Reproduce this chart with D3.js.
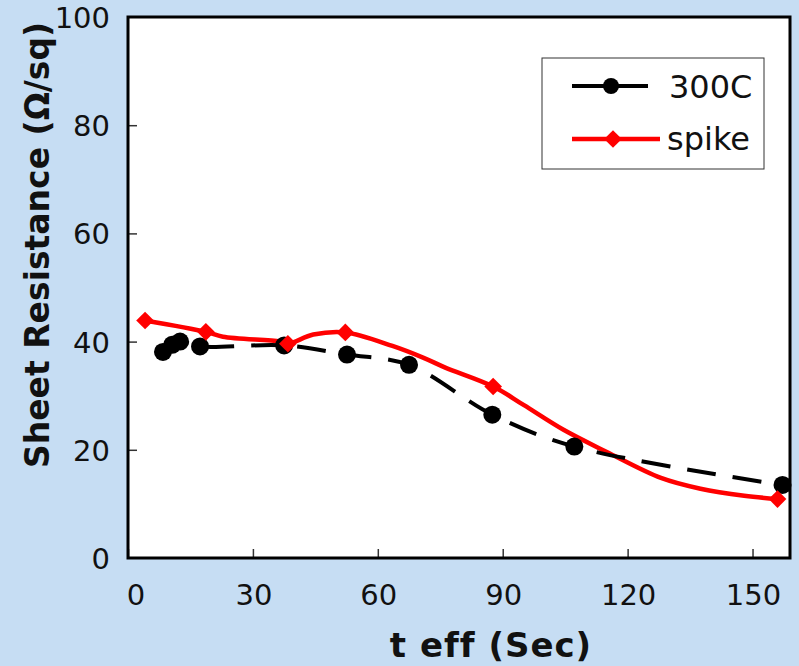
<!DOCTYPE html>
<meta charset="utf-8" />
<title>Sheet resistance vs t eff</title>
<script src="https://d3js.org/d3.v7.min.js"></script>
<style>
  body { margin: 0; background: #c6ddf3; }
  svg { display: block; font-family: "DejaVu Sans", Verdana, sans-serif; }
</style>
<div id="chart"></div>
<script>
  var width = 799, height = 666;

  // 300C series (every point has a marker)
  var t300 = [8.4, 10.6, 12.5, 17.3, 37.5, 52.6, 67.5, 87.5, 107.2, 157.2];
  var r300 = [38.1, 39.4, 40.0, 39.1, 39.3, 37.6, 35.7, 26.5, 20.6, 13.5];

  // spike series - line points, markers only on some of them
  var tSpike = [4.1, 18.7, 22.8, 36.5, 38.4, 44.5, 52.2, 63.5, 71, 76.2, 87.7, 95, 104.6, 115, 128, 137.5, 148, 156];
  var rSpike = [43.9, 41.8, 40.9, 40.0, 39.6, 41.3, 41.7, 39.2, 37.0, 35.2, 31.7, 28.3, 23.7, 19.6, 14.8, 12.8, 11.5, 10.9];
  var spikeMarked = [0, 1, 4, 6, 10, 17];

  var xTicks = [0, 30, 60, 90, 120, 150];
  var yTicks = [0, 20, 40, 60, 80, 100];

  var plot = { left: 128, top: 17, right: 790, bottom: 558 };

  var svg = d3.select("#chart").append("svg")
    .attr("width", width)
    .attr("height", height);

  svg.append("rect")
    .attr("width", width).attr("height", height)
    .attr("fill", "#c6ddf3");

  var x = d3.scaleLinear().domain([0, 159]).range([plot.left, plot.right]);
  var y = d3.scaleLinear().domain([0, 100]).range([plot.bottom, plot.top]);

  // plot area
  svg.append("rect")
    .attr("x", plot.left).attr("y", plot.top)
    .attr("width", plot.right - plot.left)
    .attr("height", plot.bottom - plot.top)
    .attr("fill", "#fff");

  // axes with inward ticks
  var xAxis = svg.append("g")
    .attr("transform", "translate(0," + plot.bottom + ")")
    .call(d3.axisTop(x).tickValues(xTicks).tickSize(9).tickFormat(""));
  xAxis.select(".domain").remove();
  xAxis.selectAll("line").attr("stroke", "#333").attr("stroke-width", 1.5);

  var yAxis = svg.append("g")
    .attr("transform", "translate(" + plot.left + ",0)")
    .call(d3.axisRight(y).tickValues(yTicks.slice(1, 5)).tickSize(9).tickFormat(""));
  yAxis.select(".domain").remove();
  yAxis.selectAll("line").attr("stroke", "#333").attr("stroke-width", 1.5);

  // tick labels
  svg.append("g").selectAll("text")
    .data(xTicks)
    .join("text")
    .attr("x", (d) => x(d) + (d === 0 ? 8 : 1))
    .attr("y", 605)
    .attr("text-anchor", "middle")
    .attr("font-size", 29)
    .attr("fill", "#111")
    .text((d) => d);

  svg.append("g").selectAll("text")
    .data(yTicks)
    .join("text")
    .attr("x", 110)
    .attr("y", (d) => y(d) + 11)
    .attr("text-anchor", "end")
    .attr("font-size", 29)
    .attr("fill", "#111")
    .text((d) => d);

  // axis titles
  svg.append("text")
    .attr("x", 491).attr("y", 657)
    .attr("text-anchor", "middle")
    .attr("font-size", 34)
    .attr("font-weight", "bold")
    .attr("letter-spacing", 1)
    .attr("fill", "#111")
    .text("t eff (Sec)");

  svg.append("text")
    .attr("transform", "translate(49,245) rotate(-90)")
    .attr("text-anchor", "middle")
    .attr("font-size", 33)
    .attr("font-weight", "bold")
    .attr("fill", "#111")
    .text("Sheet Resistance (Ω/sq)");

  var line = d3.line()
    .x((d) => x(d[0]))
    .y((d) => y(d[1]))
    .curve(d3.curveCatmullRom.alpha(0.5));

  var data300 = t300.map((t, i) => [t, r300[i]]);
  var dataSpike = tSpike.map((t, i) => [t, rSpike[i]]);

  var g = svg.append("g");

  // spike line first, 300C over it
  g.append("path")
    .datum(dataSpike)
    .attr("d", line)
    .attr("fill", "none")
    .attr("stroke", "#ff0000")
    .attr("stroke-width", 4.5);

  g.append("path")
    .datum(data300)
    .attr("d", line)
    .attr("fill", "none")
    .attr("stroke", "#000")
    .attr("stroke-width", 4)
    .attr("stroke-dasharray", "29,17");

  g.selectAll("circle.m300")
    .data(data300)
    .join("circle")
    .attr("class", "m300")
    .attr("cx", (d) => x(d[0]))
    .attr("cy", (d) => y(d[1]))
    .attr("r", 9)
    .attr("fill", "#000");

  var diamond = d3.symbol().type(d3.symbolDiamond2).size(200);
  g.selectAll("path.mspike")
    .data(spikeMarked.map((i) => dataSpike[i]))
    .join("path")
    .attr("class", "mspike")
    .attr("transform", (d) => "translate(" + x(d[0]) + "," + y(d[1]) + ")")
    .attr("d", diamond)
    .attr("fill", "#ff0000");

  // plot border
  svg.append("rect")
    .attr("x", plot.left).attr("y", plot.top)
    .attr("width", plot.right - plot.left)
    .attr("height", plot.bottom - plot.top)
    .attr("fill", "none")
    .attr("stroke", "#000")
    .attr("stroke-width", 3);

  // legend
  var legend = svg.append("g");
  legend.append("rect")
    .attr("x", 542).attr("y", 58)
    .attr("width", 222).attr("height", 111)
    .attr("fill", "#fff")
    .attr("stroke", "#333")
    .attr("stroke-width", 1);

  legend.append("line")
    .attr("x1", 572).attr("x2", 648).attr("y1", 86).attr("y2", 86)
    .attr("stroke", "#000").attr("stroke-width", 4);
  legend.append("circle")
    .attr("cx", 611).attr("cy", 86).attr("r", 8).attr("fill", "#000");
  legend.append("text")
    .attr("x", 669).attr("y", 98)
    .attr("font-size", 32).attr("fill", "#111")
    .text("300C");

  legend.append("line")
    .attr("x1", 572).attr("x2", 660).attr("y1", 139).attr("y2", 139)
    .attr("stroke", "#ff0000").attr("stroke-width", 4.5);
  legend.append("path")
    .attr("transform", "translate(613,139)")
    .attr("d", diamond)
    .attr("fill", "#ff0000");
  legend.append("text")
    .attr("x", 667).attr("y", 150)
    .attr("font-size", 32).attr("fill", "#111")
    .text("spike");
</script>
